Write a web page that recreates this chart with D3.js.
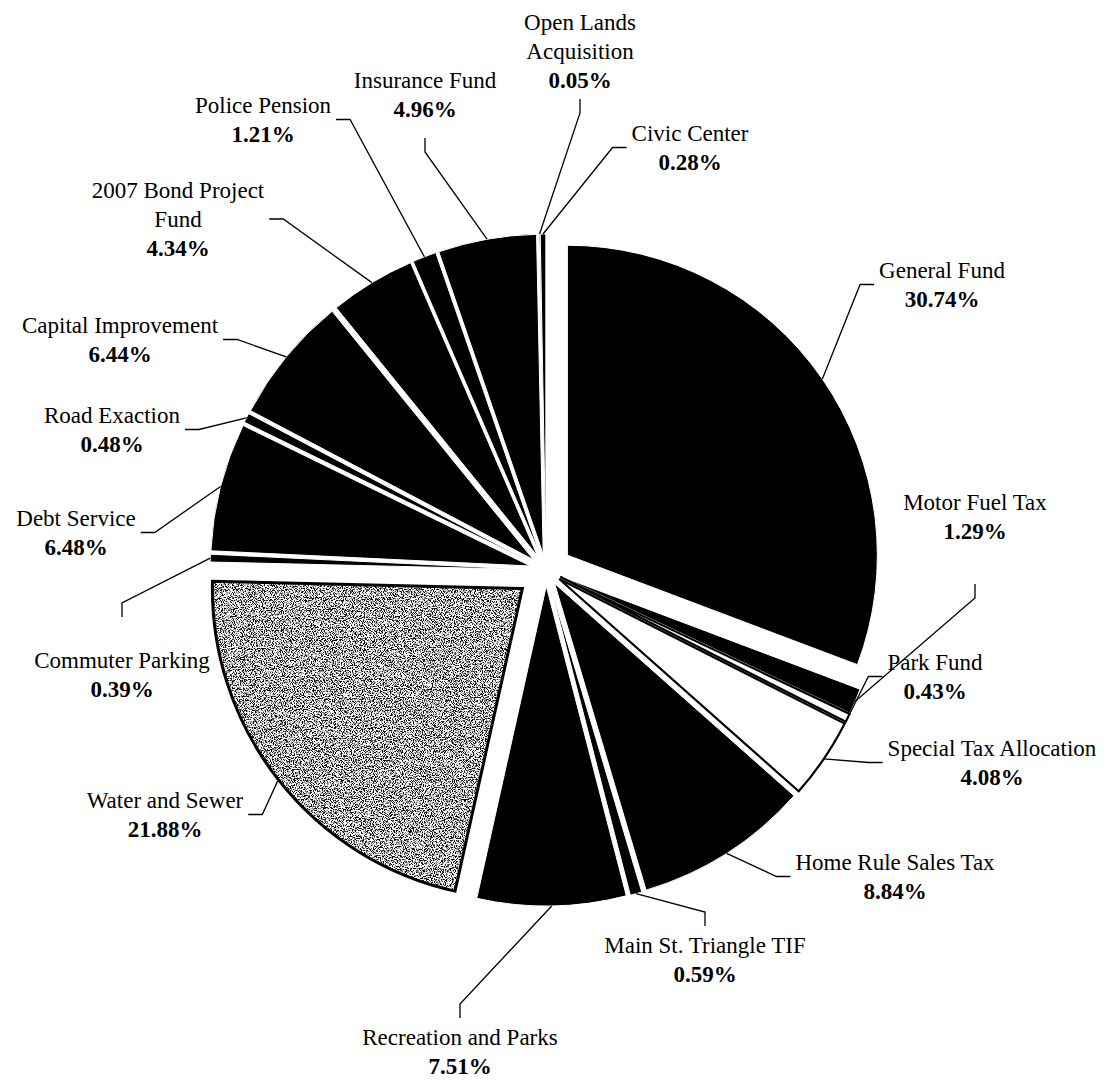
<!DOCTYPE html>
<html>
<head>
<meta charset="utf-8">
<script src="https://cdn.jsdelivr.net/npm/d3@7"></script>
<style>
  html, body { margin: 0; padding: 0; background: #fff; }
  svg { display: block; }
  text { font-family: "Liberation Serif", "Times New Roman", serif; font-size: 23px; fill: #000; }
  text.pct { font-weight: bold; }
</style>
</head>
<body>
<script>
// ---- data ----
const categories = [
  "General Fund", "Motor Fuel Tax", "Park Fund", "Special Tax Allocation",
  "Home Rule Sales Tax", "Main St. Triangle TIF", "Recreation and Parks",
  "Water and Sewer", "Commuter Parking", "Debt Service", "Road Exaction",
  "Capital Improvement", "2007 Bond Project Fund", "Police Pension",
  "Insurance Fund", "Open Lands Acquisition", "Civic Center"
];
const values = [30.74, 1.29, 0.43, 4.08, 8.84, 0.59, 7.51, 21.88, 0.39, 6.48, 0.48, 6.44, 4.34, 1.21, 4.96, 0.05, 0.28];
const percentLabels = values.map(v => v.toFixed(2) + "%");

// ---- layout (label placement) ----
const labelLayout = {
  "General Fund":           { x: 942, y: 270, side: "left" },
  "Motor Fuel Tax":         { x: 975, y: 502, side: "bottom", gap: 38 },
  "Park Fund":              { x: 935, y: 662, side: "left" },
  "Special Tax Allocation": { x: 992, y: 748, side: "left" },
  "Home Rule Sales Tax":    { x: 895, y: 862, side: "left" },
  "Main St. Triangle TIF":  { x: 705, y: 945, side: "top" },
  "Recreation and Parks":   { x: 460, y: 1037, side: "top" },
  "Water and Sewer":        { x: 165, y: 800, side: "right" },
  "Commuter Parking":       { x: 122, y: 660, side: "top", gap: 28 },
  "Debt Service":           { x: 76,  y: 518, side: "right" },
  "Road Exaction":          { x: 112, y: 415, side: "right" },
  "Capital Improvement":    { x: 120, y: 325, side: "right" },
  "2007 Bond Project Fund": { x: 178, y: 190, side: "right", lines: ["2007 Bond Project", "Fund"] },
  "Police Pension":         { x: 263, y: 105, side: "right" },
  "Insurance Fund":         { x: 425, y: 80,  side: "bottom", gap: 14 },
  "Open Lands Acquisition": { x: 580, y: 22,  side: "bottom", lines: ["Open Lands", "Acquisition"] },
  "Civic Center":           { x: 690, y: 133, side: "left" }
};

const W = 1107, H = 1080;
const center = [546, 570];
const lineGap = 29;

const svg = d3.select("body").append("svg").attr("width", W).attr("height", H);
const defs = svg.append("defs");

// stipple texture for Water and Sewer
const f = defs.append("filter").attr("id", "stipple")
  .attr("x", 0).attr("y", 0).attr("width", 1).attr("height", 1);
f.append("feTurbulence").attr("type", "fractalNoise").attr("baseFrequency", 0.9)
  .attr("numOctaves", 2).attr("seed", 7).attr("result", "t");
f.append("feColorMatrix").attr("type", "matrix")
  .attr("values", "0 0 0 0 0  0 0 0 0 0  0 0 0 0 0  6 0 0 0 -2.75");

function explodeOf(name) {
  if (name === "General Fund") return 26;
  if (name === "Water and Sewer") return 30;
  return 16;
}
function radiusOf(name) {
  if (name === "General Fund") return 310;
  if (name === "Water and Sewer") return 310;
  return 320;
}

const pie = d3.pie().sort(null).value(d => d).startAngle(0).endAngle(2 * Math.PI);
const arcsData = pie(values);

const gPie = svg.append("g");
const anchors = [];

arcsData.forEach((a, i) => {
  const name = categories[i];
  const mid = (a.startAngle + a.endAngle) / 2;
  const d = explodeOf(name), r = radiusOf(name);
  const ox = center[0] + Math.sin(mid) * d;
  const oy = center[1] - Math.cos(mid) * d;
  const arcGen = d3.arc().innerRadius(0).outerRadius(r);
  const pathD = arcGen(a);
  const g = gPie.append("g").attr("transform", `translate(${ox},${oy})`);
  anchors[i] = [ox + Math.sin(mid) * r, oy - Math.cos(mid) * r];

  if (name === "Water and Sewer") {
    defs.append("clipPath").attr("id", "clipWS").append("path").attr("d", pathD);
    g.append("path").attr("d", pathD).attr("fill", "#ffffff");
    g.append("rect").attr("x", -r - 5).attr("y", -r - 5).attr("width", 2 * r + 10).attr("height", 2 * r + 10)
      .attr("clip-path", "url(#clipWS)").attr("filter", "url(#stipple)").attr("fill", "#000");
    g.append("path").attr("d", pathD).attr("fill", "none").attr("stroke", "#000").attr("stroke-width", 3);
  } else if (name === "Special Tax Allocation" || name === "Park Fund") {
    g.append("path").attr("d", pathD).attr("fill", "#fff").attr("stroke", "#000").attr("stroke-width", 2.2);
  } else {
    g.append("path").attr("d", pathD).attr("fill", "#000").attr("stroke", "#fff").attr("stroke-width", 1);
  }
});

// labels + leader lines
const gLab = svg.append("g");
const gLead = svg.append("g");
categories.forEach((name, i) => {
  const L = labelLayout[name];
  const nameLines = L.lines || [name];
  const lines = nameLines.concat([percentLabels[i]]);
  const t = gLab.append("g");
  let maxW = 0;
  lines.forEach((s, k) => {
    const tx = t.append("text").attr("x", L.x).attr("y", L.y + k * lineGap)
      .attr("class", k === lines.length - 1 ? "pct" : "name")
      .attr("text-anchor", "middle").attr("dy", "0.34em").text(s);
    maxW = Math.max(maxW, tx.node().getComputedTextLength());
  });
  const top = L.y - 15, bottom = L.y + (lines.length - 1) * lineGap + 15;
  const midY = (top + bottom) / 2;
  const gap = L.gap || 4;
  let end, elbow;
  if (L.side === "left") { end = [L.x - maxW / 2 - 5, midY]; elbow = [end[0] - 14, midY]; }
  else if (L.side === "right") { end = [L.x + maxW / 2 + 5, midY]; elbow = [end[0] + 14, midY]; }
  else if (L.side === "top") { end = [L.x, top - gap]; elbow = [L.x, top - gap - 14]; }
  else { end = [L.x, bottom + gap]; elbow = [L.x, bottom + gap + 14]; }
  gLead.append("path")
    .attr("d", d3.line()([anchors[i], elbow, end]))
    .attr("fill", "none").attr("stroke", "#000").attr("stroke-width", 1.3);
});
</script>
</body>
</html>
